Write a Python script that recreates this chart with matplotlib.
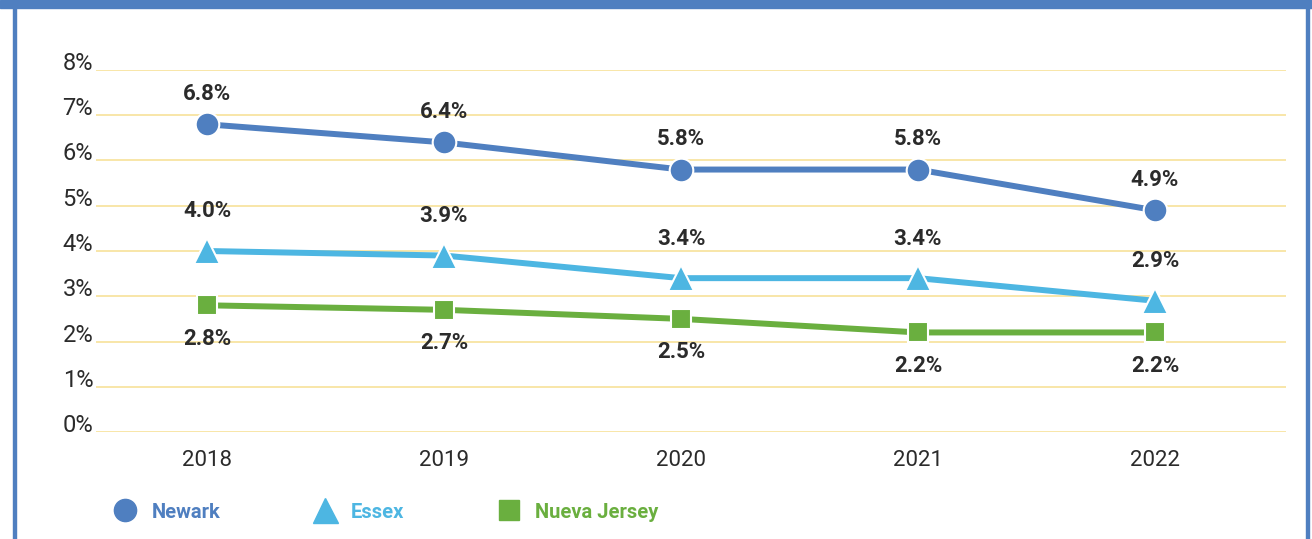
import matplotlib.pyplot as plt
from matplotlib.lines import Line2D
from matplotlib.patches import Rectangle

plt.rcParams['font.family'] = ['Roboto', 'DejaVu Sans']

years = [2018, 2019, 2020, 2021, 2022]
newark = [6.8, 6.4, 5.8, 5.8, 4.9]
essex = [4.0, 3.9, 3.4, 3.4, 2.9]
nj = [2.8, 2.7, 2.5, 2.2, 2.2]
yticks = [0, 1, 2, 3, 4, 5, 6, 7, 8]

C_NEWARK = "#4f7fc0"
C_ESSEX = "#4db6e2"
C_NJ = "#6aaf3f"
C_GRID = "#f7e29a"
C_TEXT = "#2b2b2b"

W, H = 1312, 539
fig = plt.figure(figsize=(W / 100, H / 100), dpi=100)

# frame
fig.patches.append(Rectangle((0, (H - 8) / H), 1, 8 / H, transform=fig.transFigure,
                             color=C_NEWARK, zorder=0))
fig.patches.append(Rectangle((13 / W, 0), 2.5 / W, 1, transform=fig.transFigure,
                             color=C_NEWARK, zorder=0))
fig.patches.append(Rectangle((1306 / W, 0), 2.5 / W, 1, transform=fig.transFigure,
                             color=C_NEWARK, zorder=0))

ax = fig.add_axes([96 / W, (H - 432) / H, (1286 - 96) / W, (432 - 70) / H])
ax.set_xlim(2018 - 111 / 237, 2022 + 131 / 237)
ax.set_ylim(0, 8)

for s in ax.spines.values():
    s.set_visible(False)
ax.set_yticks(yticks)
ax.set_yticklabels([f"{v}%" for v in yticks])
ax.set_xticks(years)
ax.set_xticklabels([str(y) for y in years])
ax.tick_params(length=0, colors=C_TEXT)
ax.tick_params(axis='y', pad=2, labelsize=17)
ax.tick_params(axis='x', pad=13, labelsize=16)
for lab in ax.get_yticklabels():
    lab.set_va('baseline')
ax.grid(axis='y', color=C_GRID, linewidth=1.2)
ax.set_axisbelow(True)

ax.plot(years, newark, color=C_NEWARK, lw=4.3, marker='o', ms=17,
        mec='white', mew=1.5, zorder=3)
ax.plot(years, essex, color=C_ESSEX, lw=4.3, marker='^', ms=19,
        mec='white', mew=1.5, zorder=3)
ax.plot(years, nj, color=C_NJ, lw=4.3, marker='s', ms=15,
        mec='white', mew=1.5, zorder=3)

for x, v in zip(years, newark):
    ax.annotate(f"{v:.1f}%", (x, v), xytext=(0, 22), textcoords='offset points',
                ha='center', va='center', fontsize=16, fontweight='bold', color=C_TEXT)
for x, v in zip(years, essex):
    ax.annotate(f"{v:.1f}%", (x, v), xytext=(0, 28.5), textcoords='offset points',
                ha='center', va='center', fontsize=16, fontweight='bold', color=C_TEXT)
for x, v in zip(years, nj):
    ax.annotate(f"{v:.1f}%", (x, v), xytext=(0, -24), textcoords='offset points',
                ha='center', va='center', fontsize=16, fontweight='bold', color=C_TEXT)

handles = [
    Line2D([], [], ls='none', marker='o', ms=16, color=C_NEWARK),
    Line2D([], [], ls='none', marker='^', ms=18, color=C_ESSEX),
    Line2D([], [], ls='none', marker='s', ms=15, color=C_NJ),
]
leg = fig.legend(handles, ["Newark", "Essex", "Nueva Jersey"], ncol=3,
                 loc='center left', bbox_to_anchor=(95 / W, (H - 512) / H),
                 frameon=False, prop={'size': 14.5, 'weight': 'bold'},
                 handlelength=1.2, handletextpad=0.7, columnspacing=4.6)
for t, c in zip(leg.get_texts(), [C_NEWARK, C_ESSEX, C_NJ]):
    t.set_color(c)

fig.savefig("out.png", dpi=100)
